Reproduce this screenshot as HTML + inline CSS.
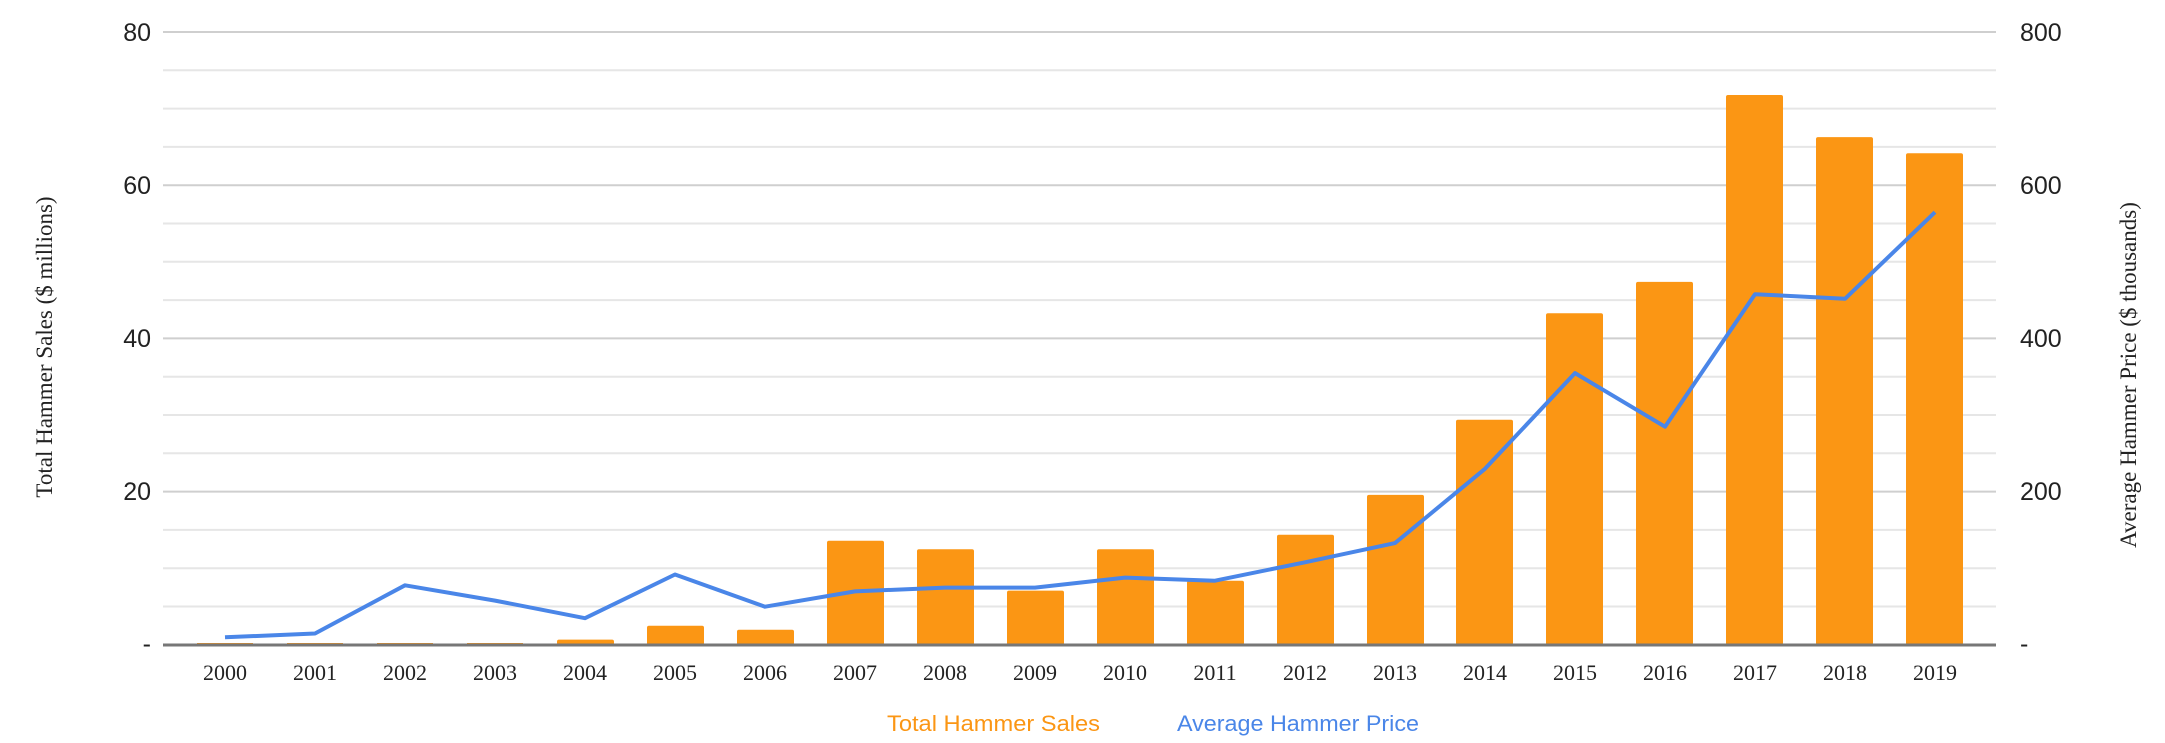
<!DOCTYPE html>
<html><head><meta charset="utf-8"><style>
html,body{margin:0;padding:0;background:#fff;}
svg{display:block;}
</style></head><body>
<svg width="2165" height="743" viewBox="0 0 2165 743" xmlns="http://www.w3.org/2000/svg">
<g stroke="#e6e6e6" stroke-width="2">
<line x1="163" x2="1996" y1="70.3" y2="70.3"/><line x1="163" x2="1996" y1="108.6" y2="108.6"/><line x1="163" x2="1996" y1="146.9" y2="146.9"/>
<line x1="163" x2="1996" y1="223.5" y2="223.5"/><line x1="163" x2="1996" y1="261.8" y2="261.8"/><line x1="163" x2="1996" y1="300.1" y2="300.1"/>
<line x1="163" x2="1996" y1="376.7" y2="376.7"/><line x1="163" x2="1996" y1="415" y2="415"/><line x1="163" x2="1996" y1="453.3" y2="453.3"/>
<line x1="163" x2="1996" y1="529.9" y2="529.9"/><line x1="163" x2="1996" y1="568.2" y2="568.2"/><line x1="163" x2="1996" y1="606.5" y2="606.5"/>
</g>
<g stroke="#cfcfcf" stroke-width="2">
<line x1="163" x2="1996" y1="32" y2="32"/><line x1="163" x2="1996" y1="185.2" y2="185.2"/><line x1="163" x2="1996" y1="338.4" y2="338.4"/><line x1="163" x2="1996" y1="491.6" y2="491.6"/>
</g>
<g fill="#fb9614">
<rect x="197" y="643" width="56" height="2"/><rect x="287" y="643" width="56" height="2"/><rect x="377" y="643" width="56" height="2"/><rect x="467" y="643" width="56" height="2"/>
<rect x="557" y="639.6" width="57" height="5.4" rx="2"/>
<rect x="647" y="625.8" width="57" height="19.2" rx="2"/>
<rect x="737" y="629.7" width="57" height="15.3" rx="2"/>
<rect x="827" y="540.8" width="57" height="104.2" rx="2"/>
<rect x="917" y="549.3" width="57" height="95.7" rx="2"/>
<rect x="1007" y="590.6" width="57" height="54.4" rx="2"/>
<rect x="1097" y="549.3" width="57" height="95.7" rx="2"/>
<rect x="1187" y="580.7" width="57" height="64.3" rx="2"/>
<rect x="1277" y="534.7" width="57" height="110.3" rx="2"/>
<rect x="1367" y="494.9" width="57" height="150.1" rx="2"/>
<rect x="1456" y="419.8" width="57" height="225.2" rx="2"/>
<rect x="1546" y="313.3" width="57" height="331.7" rx="2"/>
<rect x="1636" y="281.9" width="57" height="363.1" rx="2"/>
<rect x="1726" y="95" width="57" height="550" rx="2"/>
<rect x="1816" y="137.1" width="57" height="507.9" rx="2"/>
<rect x="1906" y="153.2" width="57" height="491.8" rx="2"/>
</g>
<line x1="163" x2="1996" y1="645" y2="645" stroke="#777" stroke-width="3"/>
<polyline fill="none" stroke="#4a86e8" stroke-width="4" stroke-linejoin="round" points="225,637.3 315,633.5 405,585.3 495,600.6 585,618.2 675,574.5 765,606.7 855,591.4 945,587.6 1035,587.6 1125,577.6 1215,580.7 1305,562.3 1395,543.1 1485,468.8 1575,373.1 1665,426.7 1755,294.2 1845,298.8 1935,212.2"/>
<g font-family="Liberation Sans, sans-serif" font-size="25" fill="#222" text-anchor="end">
<text x="151" y="41">80</text><text x="151" y="194">60</text><text x="151" y="347">40</text><text x="151" y="500">20</text><text x="151" y="652">-</text>
</g>
<g font-family="Liberation Sans, sans-serif" font-size="25" fill="#222" text-anchor="start">
<text x="2020" y="41">800</text><text x="2020" y="194">600</text><text x="2020" y="347">400</text><text x="2020" y="500">200</text><text x="2020" y="652">-</text>
</g>
<g font-family="Liberation Serif, serif" font-size="22" fill="#222" text-anchor="middle">
<text x="225" y="680">2000</text><text x="315" y="680">2001</text><text x="405" y="680">2002</text><text x="495" y="680">2003</text><text x="585" y="680">2004</text><text x="675" y="680">2005</text><text x="765" y="680">2006</text><text x="855" y="680">2007</text><text x="945" y="680">2008</text><text x="1035" y="680">2009</text><text x="1125" y="680">2010</text><text x="1215" y="680">2011</text><text x="1305" y="680">2012</text><text x="1395" y="680">2013</text><text x="1485" y="680">2014</text><text x="1575" y="680">2015</text><text x="1665" y="680">2016</text><text x="1755" y="680">2017</text><text x="1845" y="680">2018</text><text x="1935" y="680">2019</text>
</g>
<text transform="translate(52,347) rotate(-90)" font-family="Liberation Serif, serif" font-size="23" fill="#222" text-anchor="middle">Total Hammer Sales ($ millions)</text>
<text transform="translate(2136,375) rotate(-90)" font-family="Liberation Serif, serif" font-size="23" fill="#222" text-anchor="middle">Average Hammer Price ($ thousands)</text>
<text x="887" y="731" font-family="Liberation Sans, sans-serif" font-size="22" fill="#fb9614" textLength="213" lengthAdjust="spacingAndGlyphs">Total Hammer Sales</text>
<text x="1177" y="731" font-family="Liberation Sans, sans-serif" font-size="22" fill="#4a86e8" textLength="242" lengthAdjust="spacingAndGlyphs">Average Hammer Price</text>
</svg>
</body></html>
